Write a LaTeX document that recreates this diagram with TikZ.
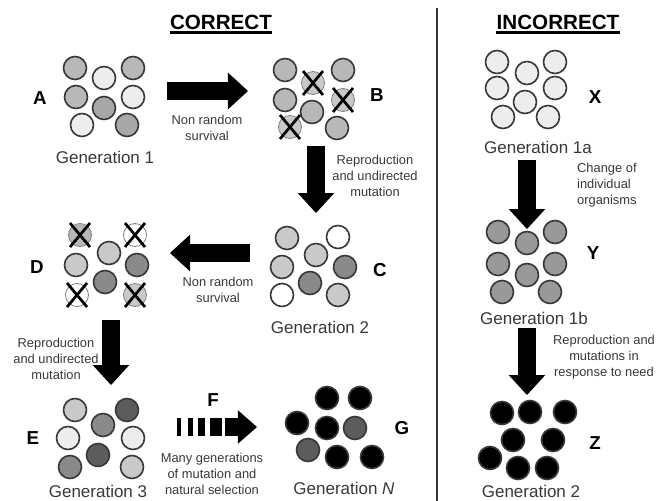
\documentclass[tikz,border=0pt]{standalone}
\usepackage{fontspec}
\setmainfont{Liberation Sans}
\usepackage{tikz}
\usetikzlibrary{positioning,calc,arrows.meta}

\definecolor{pale}{gray}{0.93}
\definecolor{lite}{gray}{0.79}
\definecolor{mid}{gray}{0.72}
\definecolor{midd}{gray}{0.66}
\definecolor{dim}{gray}{0.60}
\definecolor{dark}{gray}{0.54}
\definecolor{deep}{gray}{0.36}
\definecolor{ink}{gray}{0.22}

\tikzset{
  org/.style={circle, draw=ink, line width=1.4pt, minimum size=0.69cm, inner sep=0pt},
  dead/.style={org, draw=gray, line width=0.7pt},
  xmark/.style={line width=2.3pt, black},
  fat/.style={line width=0.56cm, -{Triangle[width=1.1cm,length=0.6cm,line width=0pt]}},
  lab/.style={font=\fontsize{16}{16}\selectfont\bfseries},
  head/.style={font=\fontsize{17.6}{18}\selectfont\bfseries, inner sep=0pt},
  gen/.style={font=\fontsize{14.5}{17}\selectfont, text=ink},
  note/.style={font=\fontsize{11}{13.5}\selectfont, text=ink, align=center},
}

\begin{document}
\begin{tikzpicture}[x=0.03cm, y=-0.03cm]
        \useasboundingbox (0,0) rectangle (658,501);

        % Headings and divider
        \node[head] (cor) at (221,22) {CORRECT};
        \node[head] (inc) at (558,22) {INCORRECT};
        \draw[line width=2.4pt] ([yshift=-3pt]cor.base west) -- ([yshift=-3pt]cor.base east);
        \draw[line width=2.4pt] ([yshift=-3pt]inc.base west) -- ([yshift=-3pt]inc.base east);
        \coordinate (divtop) at (437,8);
        \coordinate (divbot) at (437,501);
        \draw[line width=1.4pt, ink] (divtop) -- (divbot);

        % Generation 1 (A)
        \foreach \x/\y/\c [count=\i] in {75/68/mid, 133/68/mid, 104/78/pale, 76/97/mid,
            133/97/pale, 104/108/midd, 82/125/pale, 127/125/midd}
            \node[org, fill=\c] (a\i) at (\x,\y) {};

        % After selection (B)
        \foreach \x/\y/\c/\s [count=\i] in {285/70/mid/org, 313/83/lite/dead, 343/70/mid/org,
            285/100/mid/org, 343/100/lite/dead, 312/112/mid/org, 290/127/lite/dead, 337/128/mid/org}
            \node[\s, fill=\c] (b\i) at (\x,\y) {};

        % Generation 2 (C)
        \foreach \x/\y/\c [count=\i] in {287/238/lite, 338/237/white, 316/255/lite, 282/267/lite,
            345/267/dark, 310/283/dark, 282/295/white, 338/295/lite}
            \node[org, fill=\c] (c\i) at (\x,\y) {};

        % After selection (D)
        \foreach \x/\y/\c/\s [count=\i] in {80/235/mid/dead, 135/235/white/dead, 109/253/lite/org,
            76/265/lite/org, 137/265/dark/org, 105/282/dark/org, 77/295/white/dead, 135/295/lite/dead}
            \node[\s, fill=\c] (d\i) at (\x,\y) {};

        % Generation 3 (E)
        \foreach \x/\y/\c [count=\i] in {75/410/lite, 127/410/deep, 103/425/dark, 68/438/pale,
            133/438/pale, 98/455/deep, 70/467/dark, 132/467/lite}
            \node[org, fill=\c] (e\i) at (\x,\y) {};

        % Generation N (G)
        \foreach \x/\y/\c [count=\i] in {327/398/black, 360/398/black, 297/423/black, 327/428/black,
            355/428/deep, 308/450/deep, 337/457/black, 372/457/black}
            \node[org, fill=\c] (g\i) at (\x,\y) {};

        % Incorrect side (X, Y, Z)
        \foreach \x/\y [count=\i] in {497/62, 555/62, 527/73, 497/88, 555/88, 525/102, 503/117, 548/117}
            \node[org, fill=pale] (x\i) at (\x,\y) {};
        \foreach \x/\y [count=\i] in {498/232, 555/232, 527/243, 498/264, 555/264, 527/275, 502/292, 550/292}
            \node[org, fill=dim] (y\i) at (\x,\y) {};
        \foreach \x/\y [count=\i] in {502/413, 530/412, 565/412, 513/440, 553/440, 490/458, 518/468, 547/468}
            \node[org, fill=black] (z\i) at (\x,\y) {};

        % Cross out the ones that die
        \foreach \n in {b2,b5,b7,d1,d2,d7,d8}
            \draw[xmark] ($(\n)+(-10,-12)$) -- ($(\n)+(10,12)$) ($(\n)+(10,-12)$) -- ($(\n)+(-10,12)$);

        % Letters
        \node[lab] (labA) at (40,98) {A};
        \node[lab] (labB) at (377,95) {B};
        \node[lab] (labC) at (380,270) {C};
        \node[lab] (labD) at (37,267) {D};
        \node[lab] (labE) at (33,438) {E};
        \node[lab] (labF) at (213,400) {F};
        \node[lab] (labG) at (402,428) {G};
        \node[lab] (labX) at (595,97) {X};
        \node[lab] (labY) at (593,253) {Y};
        \node[lab] (labZ) at (595,443) {Z};

        % Generation names
        \node[gen] (gen1) at (105,157) {Generation 1};
        \node[gen] (gen2) at (320,327) {Generation 2};
        \node[gen] (gen3) at (98,491) {Generation 3};
        \node[gen] (genN) at (344,488) {Generation \textit{N}};
        \node[gen] (gen1a) at (538,147) {Generation 1a};
        \node[gen] (gen1b) at (534,318) {Generation 1b};
        \node[gen] (gen2z) at (531,491) {Generation 2};

        % Arrow ends
        \coordinate (ab0) at (167,91);   \coordinate (ab1) at (248,91);
        \coordinate (bc0) at (316,146);  \coordinate (bc1) at (316,213);
        \coordinate (cd0) at (250,253);  \coordinate (cd1) at (170,253);
        \coordinate (de0) at (111,320);  \coordinate (de1) at (111,385);
        \coordinate (eg0) at (177,427);  \coordinate (eg1) at (257,427);
        \coordinate (xy0) at (527,160);  \coordinate (xy1) at (527,229);
        \coordinate (yz0) at (527,328);  \coordinate (yz1) at (527,395);

        \draw[fat] (ab0) -- (ab1);
        \draw[fat] (bc0) -- (bc1);
        \draw[fat] (cd0) -- (cd1);
        \draw[fat] (de0) -- (de1);
        \draw[fat] (xy0) -- (xy1);
        \draw[fat] (yz0) -- (yz1);
        \draw[line width=0.52cm, -{Triangle[width=1.0cm,length=0.57cm,line width=0pt]},
            dash pattern=on 0.12cm off 0.21cm on 0.15cm off 0.15cm on 0.21cm off 0.15cm on 0.36cm off 0.09cm on 1cm]
            (eg0) -- (eg1);

        % Arrow notes
        \node[note] (n1) at (207,128) {Non random\\survival};
        \node[note] (n2) at (375,176) {Reproduction\\and undirected\\mutation};
        \node[note] (n3) at (218,290) {Non random\\survival};
        \node[note] (n4) at (56,359) {Reproduction\\and undirected\\mutation};
        \node[note] (n5) at (212,474) {Many generations\\of mutation and\\natural selection};
        \node[note, align=left, anchor=west] (n6) at (573,185) {Change of\\individual\\organisms};
        \node[note] (n7) at (604,357) {Reproduction and\\mutations in\\response to need};

    \end{tikzpicture}
\end{document}
